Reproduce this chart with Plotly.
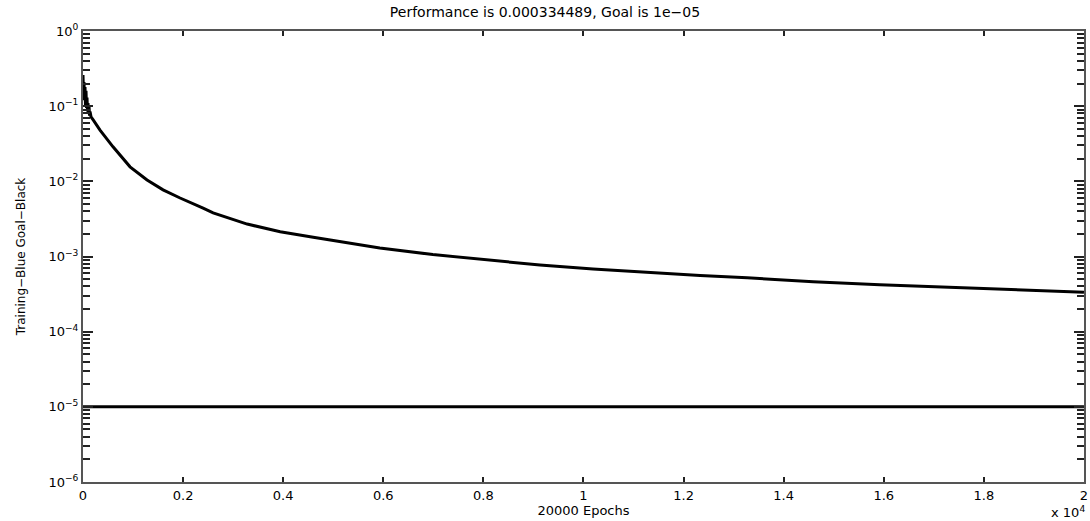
import plotly.graph_objects as go

# training record (epochs, performance)
epochs = [0, 10, 20, 30, 40, 50, 60, 70, 80, 90, 100, 110, 120, 130, 140,
          160, 180, 200, 340, 600, 940, 1280, 1600, 1940, 2400, 2600, 3280,
          3940, 4600, 5270, 5930, 6990, 8070, 9130, 10190, 11270,
          12330, 13270, 14590, 15920, 17260, 18580, 20000]
perf = [0.26, 0.14, 0.21, 0.12, 0.18, 0.10, 0.16, 0.095, 0.13, 0.085, 0.11,
        0.08, 0.10, 0.075, 0.085, 0.072, 0.068, 0.066, 0.048, 0.0288, 0.0156,
        0.0104, 0.0077, 0.0060, 0.0044, 0.0038, 0.0027, 0.00214, 0.00180,
        0.00152, 0.0013, 0.00106, 0.00090, 0.00077, 0.00068,
        0.00061, 0.00056, 0.00052, 0.00046, 0.00042, 0.00039, 0.00036,
        0.000334489]
goal = 1e-05

x_tickvals = [0, 2000, 4000, 6000, 8000, 10000, 12000, 14000, 16000, 18000, 20000]
x_ticktext = ["0", "0.2", "0.4", "0.6", "0.8", "1", "1.2", "1.4", "1.6", "1.8", "2"]
y_exponents = [-6, -5, -4, -3, -2, -1, 0]

y_tickvals = [10.0 ** e for e in y_exponents]
y_ticktext = ["10<sup>%s</sup>" % ("\u2212" + str(-e) if e < 0 else str(e)) for e in y_exponents]
y_minor = [d * 10.0 ** e for e in y_exponents[:-1] for d in range(2, 10)]

FONT = "DejaVu Sans"
FS = 13

fig = go.Figure()
fig.add_trace(go.Scatter(x=epochs, y=perf, mode="lines",
                         line=dict(color="black", width=3), showlegend=False))
fig.add_trace(go.Scatter(x=[0, 20000], y=[goal, goal], mode="lines",
                         line=dict(color="black", width=3), showlegend=False))

fig.update_layout(
    width=1090, height=521,
    margin=dict(l=83, r=6, t=31, b=39),
    paper_bgcolor="white", plot_bgcolor="white",
    font=dict(family=FONT, size=FS, color="black"),
    title=dict(text="Performance is 0.000334489, Goal is 1e\u221205",
               x=0.5, xref="container", xanchor="center",
               y=0.976, yref="container", yanchor="middle",
               font=dict(family=FONT, size=14)),
)
fig.update_xaxes(
    range=[0, 20001], tickvals=x_tickvals, ticktext=x_ticktext,
    ticks="inside", ticklen=5, tickwidth=2, tickcolor="#222",
    showline=True, linecolor="#555", linewidth=2, mirror="allticks",
    showgrid=False, zeroline=False, automargin=False,
    tickfont=dict(family=FONT, size=FS),
    title=dict(text="20000 Epochs", standoff=3, font=dict(family=FONT, size=FS)),
)
fig.update_yaxes(
    type="log", range=[-6, 0], tickvals=y_tickvals, ticktext=y_ticktext,
    ticks="inside", ticklen=10, tickwidth=2, tickcolor="#222",
    minor=dict(tickvals=y_minor, ticks="inside", ticklen=7, tickwidth=1.5,
               tickcolor="#222", showgrid=False),
    showline=True, linecolor="#555", linewidth=2, mirror="allticks",
    showgrid=False, zeroline=False, automargin=False,
    tickfont=dict(family=FONT, size=FS),
    title=dict(text="Training\u2212Blue Goal\u2212Black", standoff=20,
               font=dict(family=FONT, size=FS - 1)),
)
fig.add_annotation(text="x 10<sup>4</sup>", xref="paper", yref="paper",
                   x=1.003, y=-0.066, xanchor="right", yanchor="middle",
                   showarrow=False, font=dict(family=FONT, size=FS))

# drop the browser's default page margin so the figure sits at (0, 0)
fig.write_html("out.html", config={"displayModeBar": False},
               post_script="document.body.style.margin = '0';")
